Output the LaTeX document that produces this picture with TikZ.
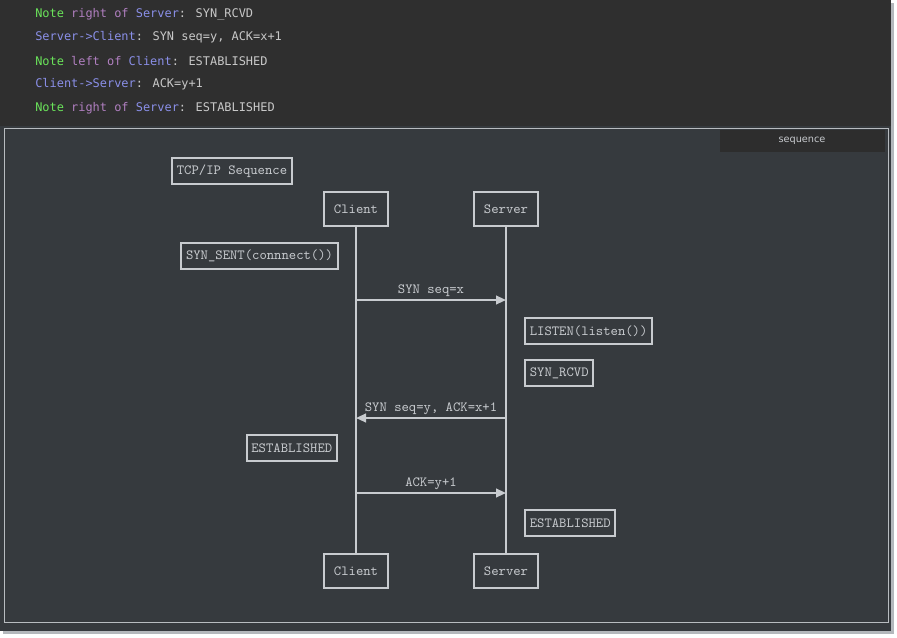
\documentclass[tikz,border=0pt]{standalone}
\usepackage{fontspec}
\usepackage{xcolor}
\usetikzlibrary{arrows.meta,positioning}
\newfontfamily\codefont{DejaVu Sans Mono}
\newfontfamily\tabfont{DejaVu Sans}
\definecolor{codeBg}{HTML}{2F2F2F}
\definecolor{panelBg}{HTML}{363A3E}
\definecolor{tabBg}{HTML}{2D2D2D}
\definecolor{shadowGray}{HTML}{B4B8BC}
\definecolor{frameGray}{HTML}{B8BCC0}
\definecolor{inkGray}{HTML}{C8CBCF}
\definecolor{plainCode}{HTML}{C8C8C8}
\definecolor{noteGreen}{HTML}{6AE35A}
\definecolor{keyMauve}{HTML}{B07FC0}
\definecolor{actorBlue}{HTML}{8A8FE8}
\tikzset{
  code line/.style={
    anchor=west,
    inner sep=0pt,
    font=\codefont\fontsize{8.95}{11}\selectfont,
    text=plainCode
  },
  actor box/.style={
    draw=inkGray,
    line width=1.5pt,
    text=inkGray,
    font=\ttfamily\fontsize{10.5}{12}\selectfont,
    minimum width=48pt,
    minimum height=25.5pt,
    inner sep=0pt
  },
  note box/.style={
    draw=inkGray,
    line width=1.5pt,
    text=inkGray,
    font=\ttfamily\fontsize{10.5}{12}\selectfont,
    inner xsep=3.6pt,
    inner ysep=0pt,
    minimum height=19pt
  },
  life line/.style={
    draw=inkGray,
    line width=1.5pt
  },
  message/.style={
    -{Triangle[length=7.5pt,width=6.5pt]},
    draw=inkGray,
    line width=1.5pt
  },
  message label/.style={
    above,
    inner sep=1.5pt,
    text=inkGray,
    font=\ttfamily\fontsize{10.5}{12}\selectfont
  }
}
\newcommand{\kwNote}{\textcolor{noteGreen}{Note}}
\newcommand{\kwRel}[1]{\textcolor{keyMauve}{#1}}
\newcommand{\kwActor}[1]{\textcolor{actorBlue}{#1}}
\begin{document}
\begin{tikzpicture}[x=0.75pt,y=-0.75pt]
  \useasboundingbox (0,0) rectangle (897,637);
  \fill[white] (0,0) rectangle (897,637);
  % frame and shadow
  \fill[shadowGray] (3,3) rectangle (894,634);
  \fill[codeBg] (0,0) rectangle (891,126);
  \fill[panelBg] (0,126) rectangle (891,631);
  \draw[frameGray,line width=0.7pt] (4,128) rectangle (888,622);

  % source lines
  \node[code line] (line1) at (35,14) {\kwNote{} \kwRel{right of} \kwActor{Server}: SYN\_RCVD};
  \node[code line] (line2) at (35,37) {\kwActor{Server->Client}: SYN seq=y, ACK=x+1};
  \node[code line] (line3) at (35,61) {\kwNote{} \kwRel{left of} \kwActor{Client}: ESTABLISHED};
  \node[code line] (line4) at (35,84) {\kwActor{Client->Server}: ACK=y+1};
  \node[code line] (line5) at (35,108) {\kwNote{} \kwRel{right of} \kwActor{Server}: ESTABLISHED};

  % tab
  \fill[tabBg] (720,130) rectangle (885,152);
  \node[text=inkGray,font=\tabfont\fontsize{7.3}{9}\selectfont] (tab) at (802,141) {sequence};

  % title
  \node[note box] (title) at (232,171) {TCP/IP Sequence};

  % actors
  \node[actor box] (clientTop) at (356,209) {Client};
  \node[actor box] (serverTop) at (506,209) {Server};
  \node[actor box] (clientBot) at (356,571) {Client};
  \node[actor box] (serverBot) at (506,571) {Server};

  \draw[life line] (clientTop.south) -- (clientBot.north);
  \draw[life line] (serverTop.south) -- (serverBot.north);

  % notes and messages
  \node[note box] (synSent) at (259.5,256) {SYN\_SENT(connnect())};

  \coordinate (m1) at (0,300);
  \draw[message] (clientTop |- m1) -- node[message label] (lbl1) {SYN seq=x} (serverTop |- m1);

  \node[note box,anchor=west] (listen) at (524,331) {LISTEN(listen())};
  \node[note box,anchor=west] (synRcvd) at (524,373) {SYN\_RCVD};

  \coordinate (m2) at (0,418);
  \draw[message] (serverTop |- m2) -- node[message label] (lbl2) {SYN seq=y, ACK=x+1} (clientTop |- m2);

  \node[note box,anchor=east] (estClient) at (338,448) {ESTABLISHED};

  \coordinate (m3) at (0,493);
  \draw[message] (clientTop |- m3) -- node[message label] (lbl3) {ACK=y+1} (serverTop |- m3);

  \node[note box,anchor=west] (estServer) at (524,523) {ESTABLISHED};
\end{tikzpicture}
\end{document}
